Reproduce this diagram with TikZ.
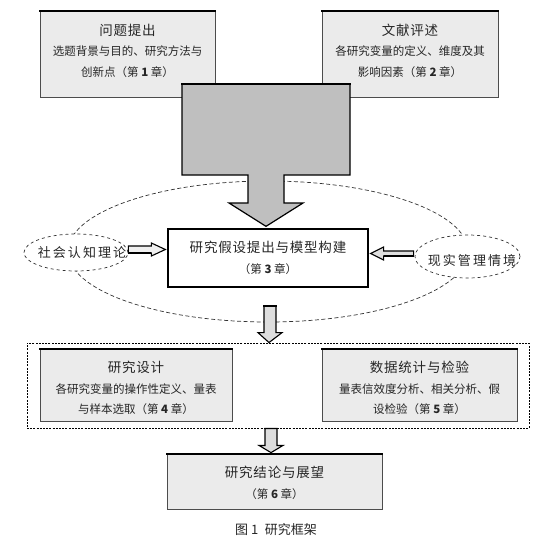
\documentclass[tikz,border=0pt]{standalone}
\usepackage{fontspec}
\setmainfont{Noto Sans CJK SC}
\usetikzlibrary{calc,shapes.geometric}
\newcommand{\ttlfont}{\fontsize{13.5}{21}\selectfont\addfontfeature{LetterSpace=6}}
\newcommand{\elfont}{\fontsize{13}{16}\selectfont\addfontfeature{LetterSpace=16}}
\newcommand{\chp}[1]{（第\ \textbf{#1}\ 章）}
\begin{document}
\begin{tikzpicture}[x=1pt,y=-1pt,
  box/.style={draw=black!70, line width=0.8pt, fill=black!8, inner sep=0pt},
  txt/.style={align=center, inner sep=0pt, text=black!85, font=\fontsize{11.5}{20.5}\selectfont},
  topedge/.style={line width=2pt, line cap=rect},
  barrow/.style={draw=black, line width=1.1pt, fill=black!13, line join=miter},
  eln/.style={ellipse, draw=black!80, dashed, line width=0.7pt, fill=white, inner sep=0pt}]
\useasboundingbox[fill=white] (0,0) rectangle (553,548);

% big dashed ellipse
\node[ellipse, draw=black!80, line width=0.7pt, dash pattern=on 4pt off 2.5pt, minimum width=400pt, minimum height=141pt, inner sep=0pt] (E) at (268,251.5) {};

% small ellipses
\node[eln, minimum width=104pt, minimum height=37pt] (L) at (76,252.5) {};
\node[txt, font=\elfont] (Lt) at (82,253) {社会认知理论};
\node[eln, minimum width=105pt, minimum height=43pt] (R) at (467.5,256.5) {};
\node[txt, font=\elfont] (Rt) at (472,260.5) {现实管理情境};

% top boxes
\node[box, minimum width=175pt, minimum height=86pt] (p1) at (127.5,54) {};
\draw[topedge] (p1.north west) -- (p1.north east);
\node[txt] (p1t) at (127.5,50.5) {{\ttlfont 问题提出}\\选题背景与目的、研究方法与\\创新点\chp{1}};
\node[box, minimum width=176pt, minimum height=86pt] (p2) at (410,54) {};
\draw[topedge] (p2.north west) -- (p2.north east);
\node[txt] (p2t) at (410,50.5) {{\ttlfont 文献评述}\\各研究变量的定义、维度及其\\影响因素\chp{2}};

% center box
\node[draw=black, line width=1.3pt, fill=white, minimum width=200pt, minimum height=58pt, inner sep=0pt] (C) at (268,258) {};
\node[txt, font=\fontsize{11.5}{21}\selectfont] (Ct) at (268,257.5) {{\ttlfont 研究假设提出与模型构建}\\\chp{3}};

% big gray arrow
\draw[draw=black, line width=1.2pt, fill=black!25, line join=miter]
  (182,84) -- (350,84) -- (350,175) -- (284,175) -- (284,203) -- (303,203)
  -- ($(C.north)+(-2,-2)$) -- (229,203) -- (248,203) -- (248,175) -- (182,175) -- cycle;
\draw[topedge] (182,84) -- (350,84);

% side arrows
\draw[barrow, fill=black!6] ($(L.east)+(0,-6.5)$) -- ($(C.west)+(-16,-12)$) -- ($(C.west)+(-16,-15)$)
  -- ($(C.west)+(-2,-8.5)$) -- ($(C.west)+(-16,-2)$) -- ($(C.west)+(-16,-5)$) -- ($(L.east)+(0,0.5)$) -- cycle;
\draw[line width=2pt] ($(L.east)+(0,0.5)$) -- ($(C.west)+(-16,-5)$);
\draw[barrow] ($(R.west)+(-1,-5.5)$) -- ($(C.east)+(15,-7)$) -- ($(C.east)+(15,-11)$)
  -- ($(C.east)+(2,-4.5)$) -- ($(C.east)+(15,2)$) -- ($(C.east)+(15,-2)$) -- ($(R.west)+(-1,-0.5)$) -- cycle;
\draw[line width=2pt] ($(R.west)+(-1,-0.5)$) -- ($(C.east)+(15,-2)$);

% dotted group box
\node[draw=black, line width=0.9pt, dash pattern=on 2pt off 1.2pt, minimum width=502pt, minimum height=85pt, inner sep=0pt] (D) at (278,385.5) {};

% boxes 4 and 5
\node[box, minimum width=192pt, minimum height=72pt] (b4) at (136,385) {};
\draw[topedge] (b4.north west) -- (b4.north east);
\node[txt] (b4t) at (136,388) {{\ttlfont 研究设计}\\各研究变量的操作性定义、量表\\与样本选取\chp{4}};
\node[box, minimum width=195pt, minimum height=72pt] (b5) at (419.5,385) {};
\draw[topedge] (b5.north west) -- (b5.north east);
\node[txt] (b5t) at (419.5,388) {{\ttlfont 数据统计与检验}\\量表信效度分析、相关分析、假\\设检验\chp{5}};

% bottom box
\node[box, minimum width=215pt, minimum height=55pt] (b6) at (274.5,481.5) {};
\draw[topedge] (b6.north west) -- (b6.north east);
\node[txt, font=\fontsize{11.5}{20.5}\selectfont] (b6t) at (274.5,483) {{\ttlfont 研究结论与展望}\\\chp{6}};

% down arrow C -> D
\draw[barrow] ($(C.south)+(-4,18)$) -- ($(C.south)+(-4,45)$) -- ($(C.south)+(-10,45)$)
  -- ($(C.south |- D.north)+(1,0)$) -- ($(C.south)+(14,45)$) -- ($(C.south)+(8,45)$) -- ($(C.south)+(8,18)$) -- cycle;
\draw[topedge] ($(C.south)+(-4,18)$) -- ($(C.south)+(8,18)$);

% down arrow D -> b6
\draw[barrow] ($(D.south)+(-13,0)$) -- ($(D.south)+(-13,17)$) -- ($(D.south)+(-19,17)$)
  -- ($(b6.north)+(-3.5,-1)$) -- ($(D.south)+(5,17)$) -- ($(D.south)+(-1,17)$) -- ($(D.south)+(-1,0)$) -- cycle;

% caption
\node[txt, font=\fontsize{13}{15}\selectfont] (cap) at (276,530) {图 1\enspace 研究框架};
\end{tikzpicture}
\end{document}
